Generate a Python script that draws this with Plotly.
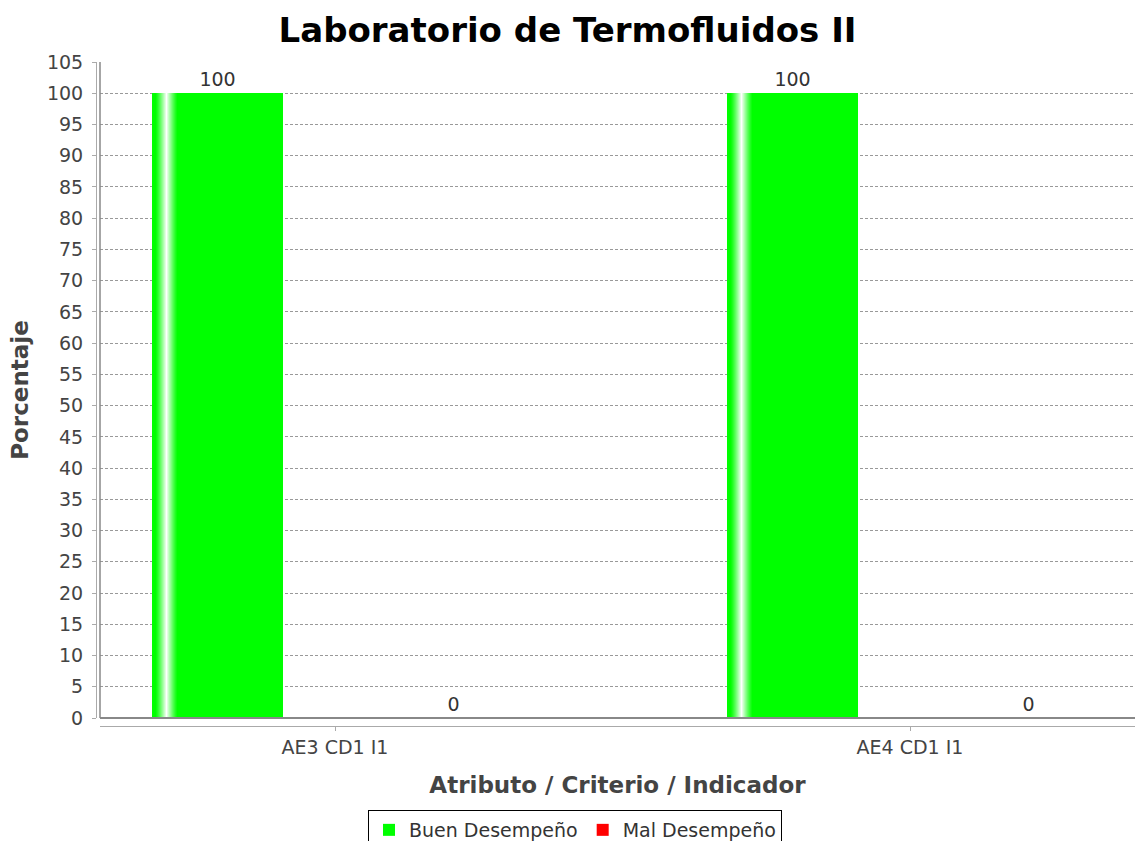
import plotly.graph_objects as go

categories = ["AE3 CD1 I1", "AE4 CD1 I1"]
buen = [100, 100]
mal = [0, 0]
series_names = ["Buen Desempeño", "Mal Desempeño"]
y_ticks = list(range(0, 106, 5))

W, H = 1135, 841
L, B, T = 96, 115, 62
plot_w = W - L
plot_h = H - T - B
px_x = 575.0  # pixels per category unit
bar_w = 131 / px_x
green_off = (152 - 335) / px_x
red_off = (387.5 - 335) / px_x

fig = go.Figure()

fig.add_trace(go.Bar(
    x=categories, y=buen, name=series_names[0],
    marker=dict(color="#00ff00", line=dict(width=0)),
    width=bar_w, offset=green_off,
    text=[str(v) for v in buen], textposition="outside",
    textfont=dict(family="DejaVu Sans", size=19, color="#333"),
    cliponaxis=False,
))

# gradient highlight stripe (style only, same values)
stripe_px = 1.0
for i in range(26):
    xp = 152 + i * stripe_px
    t = max(0.0, 1 - abs(xp + 0.5 - 166.5) / 11.0)
    t = t ** 1.2
    c = int(255 * t)
    fig.add_trace(go.Bar(
        x=categories, y=buen, showlegend=False, hoverinfo="skip",
        marker=dict(color=f"rgb({c},255,{c})", line=dict(width=0)),
        width=stripe_px / px_x, offset=(xp - 335) / px_x,
    ))

fig.add_trace(go.Bar(
    x=categories, y=mal, name=series_names[1],
    marker=dict(color="#ff0000", line=dict(width=0)),
    width=bar_w, offset=red_off,
    text=[str(v) for v in mal], textposition="outside",
    textfont=dict(family="DejaVu Sans", size=19, color="#333"),
    cliponaxis=False,
))

x0 = -(335 - 100) / px_x
x1 = x0 + (W - 100) / px_x

fig.update_layout(
    width=W, height=H,
    margin=dict(l=L, r=0, t=T, b=B, autoexpand=False),
    paper_bgcolor="white", plot_bgcolor="white",
    barmode="overlay",
    title=dict(text="<b>Laboratorio de Termofluidos II</b>",
               x=0.5, xanchor="center", y=1 - 30 / H, yanchor="middle",
               font=dict(family="DejaVu Sans", size=34, color="black")),
    xaxis=dict(
        type="category", categoryorder="array", categoryarray=categories,
        range=[x0, x1], domain=[4 / plot_w, 1],
        anchor="free", position=0, automargin=False,
        showgrid=False, zeroline=False,
        showline=True, linecolor="#aaaaaa", linewidth=1,
        ticks="outside", ticklen=4, tickcolor="#aaaaaa",
        tickfont=dict(family="DejaVu Sans", size=19, color="#444"),
        title=dict(text="<b>Atributo / Criterio / Indicador</b>",
                   font=dict(family="DejaVu Sans", size=23, color="#444"),
                   standoff=20),
    ),
    yaxis=dict(
        range=[0, 105], domain=[8 / plot_h, 1],
        anchor="free", position=0, automargin=False,
        tickvals=y_ticks, ticktext=[str(v) for v in y_ticks],
        showgrid=True, gridcolor="#999999", griddash="3px,2px", gridwidth=1,
        zeroline=False,
        showline=True, linecolor="#aaaaaa", linewidth=1,
        ticks="outside", ticklen=4, tickcolor="#aaaaaa",
        ticklabelstandoff=5,
        tickfont=dict(family="DejaVu Sans", size=19, color="#444"),
        title=dict(text="<b>Porcentaje</b>",
                   font=dict(family="DejaVu Sans", size=23, color="#444"),
                   standoff=10),
    ),
    legend=dict(
        orientation="h", x=(575 - L) / plot_w, xanchor="center",
        y=(H - B - 810) / plot_h, yanchor="top",
        bordercolor="black", borderwidth=1, bgcolor="white",
        font=dict(family="DejaVu Sans", size=19, color="#333"),
        itemwidth=30, tracegroupgap=0,
    ),
    bargap=0,
)

# plot border (left and bottom edges of the data area)
fig.add_shape(type="line", xref="x domain", yref="y domain",
              x0=0, x1=1, y0=0, y1=0, line=dict(color="#888888", width=2))
fig.add_shape(type="line", xref="x domain", yref="y domain",
              x0=0, x1=0, y0=0, y1=1, line=dict(color="#888888", width=1.5))

fig.write_html(
    "out.html",
    config={"displayModeBar": False},
    post_script="document.body.style.margin='0';document.body.style.overflow='hidden';",
)
